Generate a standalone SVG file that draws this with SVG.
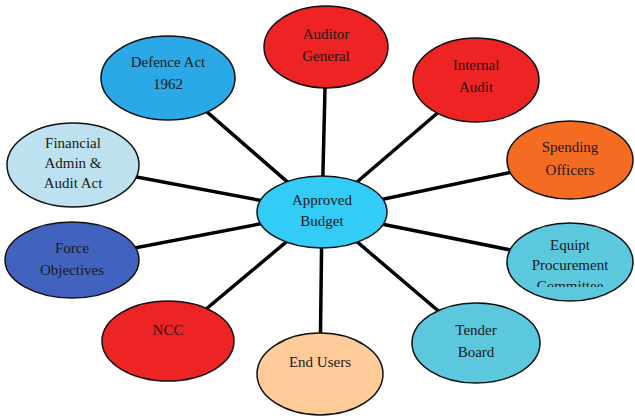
<svg xmlns="http://www.w3.org/2000/svg" width="635" height="416" viewBox="0 0 635 416">
<style>
.n ellipse{stroke:#111;stroke-width:1.5}
.n text{font-family:"Liberation Serif","Times New Roman",serif;font-size:15px;fill:#1a1a1a;text-anchor:middle}
.c line{stroke:#000;stroke-width:3.5}
</style>
<defs>
<clipPath id="clipEq"><rect x="0" y="0" width="635" height="287"/></clipPath>
</defs>
<rect width="635" height="416" fill="#fff"/>
<g id="connectors" class="c">
<line x1="322" y1="212" x2="168" y2="78"/>
<line x1="322" y1="212" x2="326" y2="47"/>
<line x1="322" y1="212" x2="476" y2="80"/>
<line x1="322" y1="212" x2="570" y2="160"/>
<line x1="322" y1="212" x2="73" y2="165"/>
<line x1="322" y1="212" x2="72" y2="260"/>
<line x1="322" y1="212" x2="570" y2="262"/>
<line x1="322" y1="212" x2="168" y2="341"/>
<line x1="322" y1="212" x2="320" y2="374"/>
<line x1="322" y1="212" x2="476" y2="343"/>
</g>
<g id="defence" class="n"><ellipse cx="168" cy="78" rx="67" ry="42" fill="#2AA9E6"/><text x="168" y="67">Defence Act</text><text x="168" y="89">1962</text></g>
<g id="auditor" class="n"><ellipse cx="326" cy="47" rx="62" ry="41" fill="#EE2324"/><text x="326" y="39">Auditor</text><text x="326" y="61">General</text></g>
<g id="internal" class="n"><ellipse cx="476" cy="80" rx="63" ry="42" fill="#EE2324"/><text x="476" y="70">Internal</text><text x="476" y="92">Audit</text></g>
<g id="spending" class="n"><ellipse cx="570" cy="160" rx="63" ry="39" fill="#F36C21"/><text x="570" y="152">Spending</text><text x="570" y="175">Officers</text></g>
<g id="financial" class="n"><ellipse cx="73" cy="165" rx="66" ry="42" fill="#BEE1EF"/><text x="73" y="148">Financial</text><text x="73" y="168">Admin &amp;</text><text x="73" y="188">Audit Act</text></g>
<g id="force" class="n"><ellipse cx="72" cy="260" rx="67" ry="38" fill="#4262C0"/><text x="72" y="253">Force</text><text x="72" y="275">Objectives</text></g>
<g id="equipt" class="n"><ellipse cx="570" cy="262" rx="63" ry="39" fill="#5CC8DE"/><text x="570" y="250">Equipt</text><text x="570" y="270">Procurement</text><text x="570" y="291" clip-path="url(#clipEq)">Committee</text></g>
<g id="approved" class="n"><ellipse cx="322" cy="212" rx="65" ry="36" fill="#33CCF6"/><text x="322" y="205">Approved</text><text x="322" y="226">Budget</text></g>
<g id="ncc" class="n"><ellipse cx="168" cy="341" rx="66" ry="40" fill="#EE2324"/><text x="168" y="335">NCC</text></g>
<g id="endusers" class="n"><ellipse cx="320" cy="374" rx="63" ry="41" fill="#FFCB99"/><text x="320" y="367">End Users</text></g>
<g id="tender" class="n"><ellipse cx="476" cy="343" rx="64" ry="40" fill="#5CC8DE"/><text x="476" y="335">Tender</text><text x="476" y="357">Board</text></g>
</svg>
